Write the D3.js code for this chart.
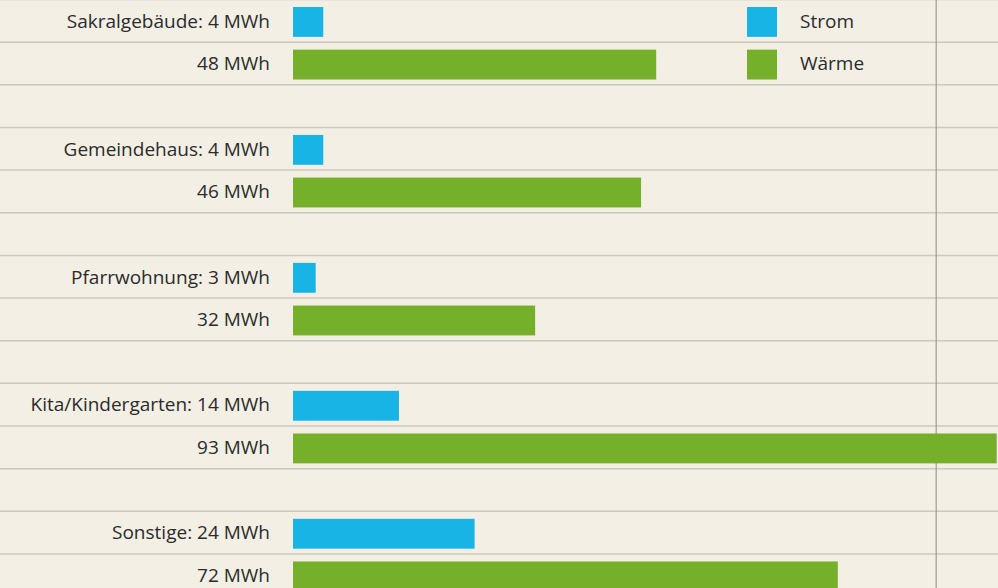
<!DOCTYPE html>
<html>
<head>
<meta charset="utf-8">
<script src="https://cdn.jsdelivr.net/npm/d3@7"></script>
<style>
  html, body { margin: 0; padding: 0; background: #f3efe5; overflow: hidden; }
  svg { display: block; }
  text { font-family: "Open Sans", sans-serif; fill: #2b2b2b; }
</style>
</head>
<body>
<div id="chart"></div>
<script>
// Energieverbrauch nach Gebäudetyp
const categories = ['Sakralgebäude', 'Gemeindehaus', 'Pfarrwohnung', 'Kita/Kindergarten', 'Sonstige'];
const strom = [4, 4, 3, 14, 24];
const waerme = [48, 46, 32, 93, 72];
const seriesNames = ['Strom', 'Wärme'];
const seriesColors = ['#18b4e6', '#76b02a'];
const refValue = 85;

(function() {
    const width = 998;
    const height = 588;
    const barLeft = 293;
    const rowH = 42.65;

    // three slots per category: strom, waerme, gap
    const rows = [];
    categories.forEach((c, i) => {
        rows.push({key: c + '-s', cat: c, series: 0, value: strom[i]});
        rows.push({key: c + '-w', cat: c, series: 1, value: waerme[i]});
        if (i < categories.length - 1) rows.push({key: c + '-gap', cat: c, series: -1, value: null});
    });

    const y = d3.scaleBand()
        .domain(rows.map(d => d.key))
        .range([0.6, 0.6 + rowH * rows.length])
        .paddingInner(0.3)
        .paddingOuter(0.15);

    const x = d3.scaleLinear()
        .domain([0, 93])
        .range([barLeft, 996.7]);

    const svg = d3.select('#chart')
        .append('svg')
        .attr('width', width)
        .attr('height', height);

    // row separators
    const bounds = d3.range(rows.length + 1).map(i => -0.5 + i * rowH);
    svg.selectAll('.sep')
        .data(bounds)
        .enter()
        .append('line')
        .attr('x1', 0)
        .attr('x2', width)
        .attr('y1', d => d)
        .attr('y2', d => d)
        .attr('stroke', '#cdc8bb')
        .attr('stroke-width', 1.5);

    // reference line
    svg.append('line')
        .attr('x1', x(refValue))
        .attr('x2', x(refValue))
        .attr('y1', 0)
        .attr('y2', height)
        .attr('stroke', '#8c8a85')
        .attr('stroke-width', 1);

    const data = rows.filter(d => d.series >= 0);

    svg.selectAll('.bar')
        .data(data)
        .enter()
        .append('rect')
        .attr('x', x(0))
        .attr('y', d => y(d.key))
        .attr('width', d => x(d.value) - x(0))
        .attr('height', y.bandwidth())
        .attr('fill', d => seriesColors[d.series]);

    svg.selectAll('.label')
        .data(data)
        .enter()
        .append('text')
        .attr('x', 270)
        .attr('y', d => y(d.key) + y.bandwidth() / 2)
        .attr('dy', '0.3em')
        .attr('text-anchor', 'end')
        .attr('font-size', '19px')
        .text(d => (d.series === 0 ? d.cat + ': ' : '') + d.value + ' MWh');

    // legend, aligned with the first two rows
    const legend = svg.selectAll('.legend')
        .data(seriesNames)
        .enter()
        .append('g')
        .attr('transform', (d, i) => `translate(747,${y(rows[i].key)})`);

    legend.append('rect')
        .attr('width', 30)
        .attr('height', y.bandwidth())
        .attr('fill', (d, i) => seriesColors[i]);

    legend.append('text')
        .attr('x', 53)
        .attr('y', y.bandwidth() / 2)
        .attr('dy', '0.3em')
        .attr('font-size', '19px')
        .text(d => d);
})();
</script>
</body>
</html>
